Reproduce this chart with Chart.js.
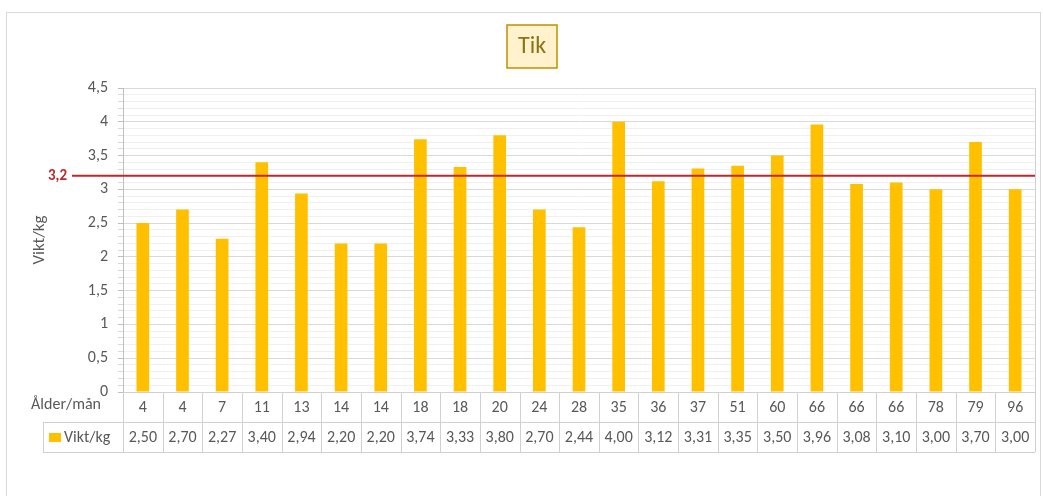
<!DOCTYPE html>
<html>
<head>
<meta charset="utf-8">
<script src="https://cdn.jsdelivr.net/npm/chart.js@4"></script>
<style>
  html, body { margin: 0; padding: 0; background: #fff; }
  #wrap { width: 1043px; height: 496px; }
</style>
</head>
<body>
<div id="wrap"><canvas id="myChart" width="1043" height="496"></canvas></div>
<script>
const ages = ['4', '4', '7', '11', '13', '14', '14', '18', '18', '20', '24', '28',
  '35', '36', '37', '51', '60', '66', '66', '66', '78', '79', '96'];
const weights = [2.50, 2.70, 2.27, 3.40, 2.94, 2.20, 2.20, 3.74, 3.33, 3.80, 2.70, 2.44,
  4.00, 3.12, 3.31, 3.35, 3.50, 3.96, 3.08, 3.10, 3.00, 3.70, 3.00];
const refValue = 3.2;
const chartTitle = 'Tik';
const seriesName = 'Vikt/kg';
const rowHeader = 'Ålder/mån';

const FONT = 'Carlito, Lato, sans-serif';
const GRAY = '#595959';
const fmt = (v, d) => v.toFixed(d).replace('.', ',');

// title box, outer frame, reference line and data table
const extras = {
  id: 'extras',
  beforeDraw(chart) {
    const ctx = chart.ctx;
    ctx.save();
    ctx.strokeStyle = '#d9d9d9';
    ctx.lineWidth = 1;
    ctx.strokeRect(6.5, 12.5, 1034, 600);
    ctx.restore();
  },
  afterDraw(chart) {
    const ctx = chart.ctx;
    const area = chart.chartArea;
    const x = chart.scales.x;
    const y = chart.scales.y;
    ctx.save();

    // title
    ctx.fillStyle = '#fff2cc';
    ctx.fillRect(507, 25, 50, 43);
    ctx.strokeStyle = '#bf9000';
    ctx.lineWidth = 1.5;
    ctx.strokeRect(507, 25, 50, 43);
    ctx.fillStyle = '#8a7413';
    ctx.font = '24px ' + FONT;
    ctx.textAlign = 'center';
    ctx.textBaseline = 'middle';
    ctx.fillText(chartTitle, 532, 47);

    // right edge of plot
    ctx.strokeStyle = '#d0d0d0';
    ctx.lineWidth = 1;
    ctx.beginPath();
    ctx.moveTo(Math.round(area.right) + 0.5, area.top);
    ctx.lineTo(Math.round(area.right) + 0.5, area.bottom);
    ctx.stroke();

    // data table
    const w = (area.right - area.left) / ages.length;
    const r0 = area.bottom, r1 = r0 + 30, r2 = r1 + 30;
    ctx.strokeStyle = '#d0d0d0';
    ctx.beginPath();
    ctx.moveTo(area.left, r0 + 0.5); ctx.lineTo(area.right, r0 + 0.5);
    ctx.moveTo(43, r1 + 0.5); ctx.lineTo(area.right, r1 + 0.5);
    ctx.moveTo(43, r2 + 0.5); ctx.lineTo(area.right, r2 + 0.5);
    ctx.moveTo(43.5, r1); ctx.lineTo(43.5, r2);
    for (let i = 0; i <= ages.length; i++) {
      const cx = Math.round(area.left + i * w) + 0.5;
      ctx.moveTo(cx, r0); ctx.lineTo(cx, r2);
    }
    ctx.stroke();

    ctx.fillStyle = GRAY;
    ctx.font = '16px ' + FONT;
    ctx.textBaseline = 'middle';
    ctx.textAlign = 'center';
    ages.forEach((a, i) => {
      const cx = x.getPixelForValue(i);
      ctx.fillText(a, cx, r0 + 16);
      ctx.fillText(fmt(weights[i], 2), cx, r1 + 16);
    });
    ctx.textAlign = 'right';
    ctx.fillText(rowHeader, 101, r0 + 13);
    ctx.textAlign = 'left';
    ctx.fillText(seriesName, 64, r1 + 16);
    ctx.fillStyle = '#ffc000';
    ctx.fillRect(49, r1 + 11, 12, 9);

    // reference line
    const ry = y.getPixelForValue(refValue);
    ctx.strokeStyle = '#c0262c';
    ctx.lineWidth = 2;
    ctx.beginPath();
    ctx.moveTo(72, ry);
    ctx.lineTo(area.right, ry);
    ctx.stroke();
    ctx.fillStyle = '#c0262c';
    ctx.font = 'bold 15px ' + FONT;
    ctx.textAlign = 'right';
    ctx.fillText(fmt(refValue, 1), 67, ry);

    ctx.restore();
  }
};

const isMajor = (v) => Math.round(v * 10) % 5 === 0;

new Chart(
  document.getElementById('myChart'),
  {
    type: 'bar',
    data: {
      labels: ages,
      datasets: [
        {
          label: seriesName,
          data: weights,
          backgroundColor: '#ffc000',
          categoryPercentage: 1,
          barPercentage: 0.32
        }
      ]
    },
    options: {
      responsive: false,
      animation: false,
      layout: {
        padding: { left: 0, top: 88, right: 8, bottom: 104 }
      },
      plugins: {
        legend: { display: false },
        title: { display: false },
        tooltip: { enabled: false }
      },
      scales: {
        x: {
          display: false
        },
        y: {
          min: 0,
          max: 4.5,
          afterFit: (s) => { s.width = 123; },
          border: { color: '#bfbfbf' },
          grid: {
            color: (c) => isMajor(c.tick.value) ? '#d9d9d9' : '#f0f0f0',
            tickColor: (c) => isMajor(c.tick.value) ? '#bfbfbf' : '#d9d9d9',
            tickLength: 5
          },
          ticks: {
            stepSize: 0.1,
            autoSkip: false,
            padding: 10,
            color: GRAY,
            font: { family: FONT, size: 16 },
            callback: (v) => isMajor(v) ? fmt(Math.round(v * 10) / 10, Number.isInteger(Math.round(v * 10) / 10) ? 0 : 1) : ''
          },
          title: {
            display: true,
            text: seriesName,
            color: GRAY,
            font: { family: FONT, size: 17 },
            padding: { top: 30, bottom: 0 }
          }
        }
      }
    },
    plugins: [extras]
  }
)
</script>
</body>
</html>
